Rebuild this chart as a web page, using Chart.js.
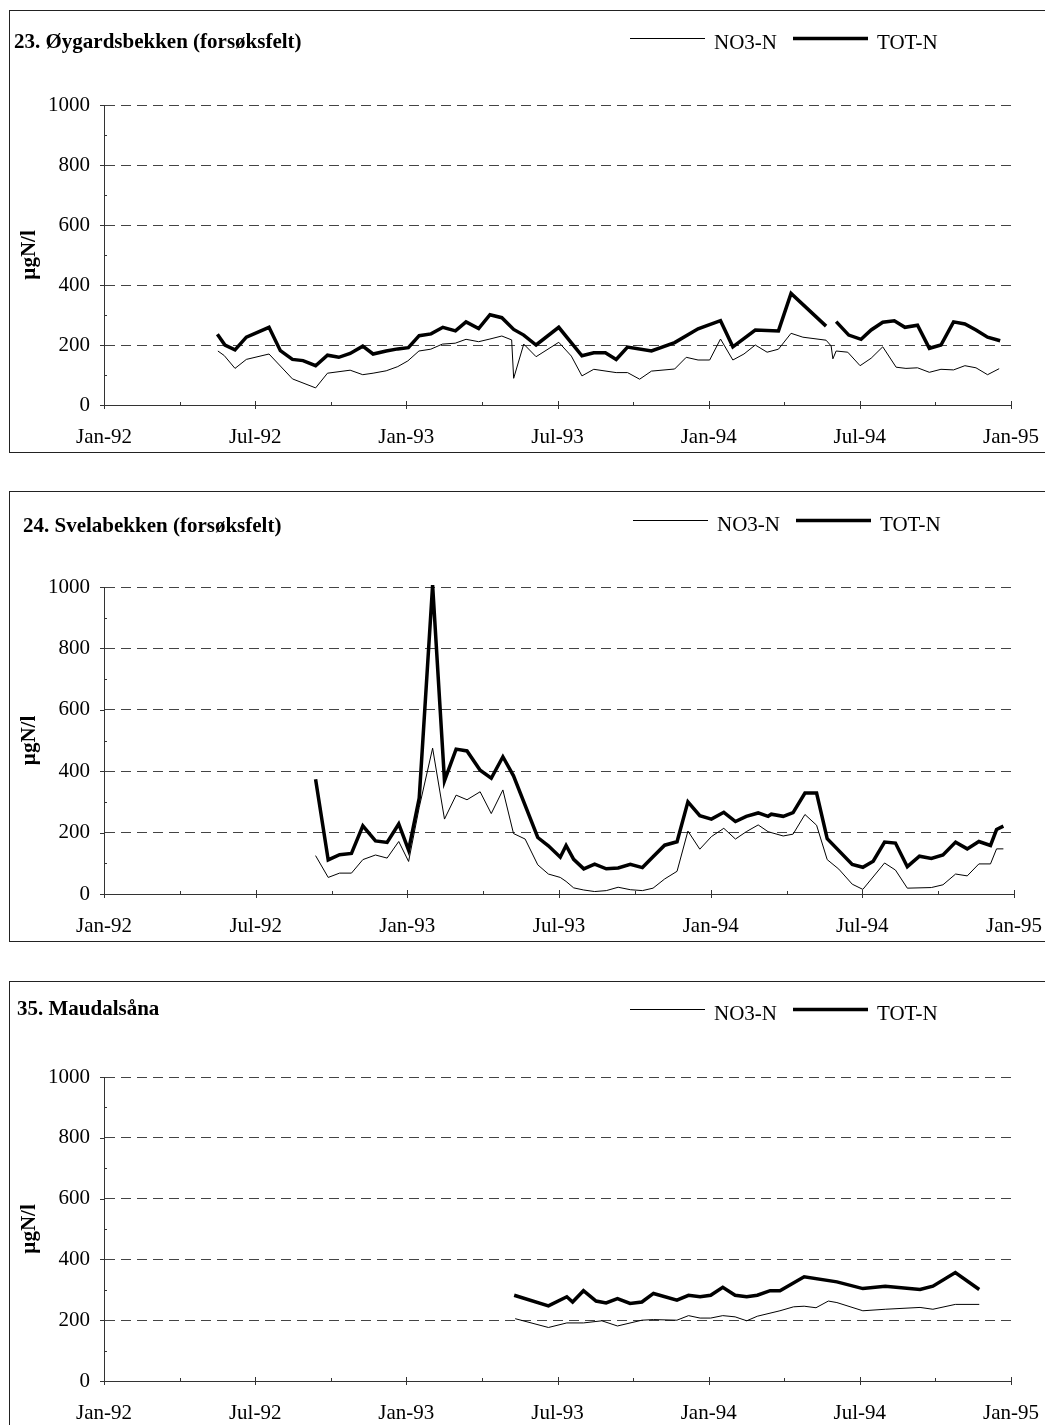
<!DOCTYPE html>
<html>
<head>
<meta charset="utf-8">
<script src="https://cdn.jsdelivr.net/npm/chart.js@4.4.0/dist/chart.umd.min.js"></script>
<style>
body { margin: 0; background: #fff; width: 1045px; height: 1425px; overflow: hidden; position: relative; }
.panel { position: absolute; left: 9px; width: 1040px; border: 1px solid #222; box-sizing: border-box; background: #fff; }
.panel canvas { position: absolute; left: 0; top: 0; }
</style>
</head>
<body>
<div class="panel" style="top:10px;height:443px"><canvas id="c1" width="1038" height="441"></canvas></div>
<div class="panel" style="top:491px;height:451px"><canvas id="c2" width="1038" height="449"></canvas></div>
<div class="panel" style="top:981px;height:450px"><canvas id="c3" width="1038" height="448"></canvas></div>
<script>
// x values are months counted from Jan-92
const xTickLabels = ['Jan-92', 'Jul-92', 'Jan-93', 'Jul-93', 'Jan-94', 'Jul-94', 'Jan-95'];
const seriesNames = ['NO3-N', 'TOT-N'];

// 23. Øygardsbekken
const p1No3Months = [4.52, 4.77, 5.2, 5.65, 6.55, 7.48, 8.4, 8.87, 9.77, 10.27, 10.68, 11.2, 11.66, 12.06, 12.5, 12.97, 13.43, 13.94, 14.37, 14.87, 15.32, 15.79, 16.18, 16.26, 16.66, 17.15, 18.05, 18.55, 18.97, 19.44, 20.33, 20.78, 21.26, 21.73, 22.65, 23.11, 23.58, 24.04, 24.47, 24.96, 25.4, 25.85, 26.32, 26.77, 27.27, 27.74, 28.66, 28.86, 28.93, 29.06, 29.52, 30.01, 30.45, 30.91, 31.44, 31.83, 32.29, 32.76, 33.22, 33.72, 34.17, 34.61, 35.07, 35.53];
const p1No3Values = [180, 165, 122, 152, 170, 87, 57, 106, 116, 101, 106, 114, 128, 147, 180, 186, 203, 206, 219, 211, 220, 230, 217, 89, 203, 161, 209, 163, 97, 119, 108, 108, 86, 113, 120, 159, 150, 150, 220, 150, 170, 200, 176, 186, 239, 226, 216, 197, 154, 180, 176, 131, 156, 194, 126, 122, 124, 109, 119, 117, 131, 124, 101, 121];
const p1TotMonths = [4.5, 4.8, 5.2, 5.65, 6.55, 7.0, 7.48, 7.9, 8.4, 8.87, 9.32, 9.77, 10.27, 10.68, 11.2, 11.66, 12.08, 12.51, 12.98, 13.45, 13.95, 14.37, 14.87, 15.32, 15.79, 16.26, 16.66, 17.15, 18.05, 18.97, 19.44, 19.9, 20.33, 20.78, 21.73, 22.65, 23.58, 24.47, 24.96, 25.85, 26.77, 27.27, 28.66, 28.86, 29.06, 29.56, 30.05, 30.45, 30.91, 31.37, 31.79, 32.29, 32.76, 33.22, 33.72, 34.17, 34.61, 35.07, 35.57];
const p1TotValues = [236, 200, 184, 226, 259, 181, 152, 148, 131, 166, 159, 172, 196, 170, 180, 187, 191, 231, 237, 259, 247, 277, 255, 301, 291, 252, 233, 200, 259, 164, 174, 174, 152, 193, 180, 208, 254, 281, 194, 250, 247, 372, 263, null, 278, 233, 219, 250, 276, 281, 259, 266, 189, 200, 277, 270, 250, 226, 214];

// 24. Svelabekken
const p2No3Months = [8.37, 8.87, 9.32, 9.79, 10.24, 10.74, 11.2, 11.66, 12.05, 12.47, 13.0, 13.47, 13.93, 14.36, 14.88, 15.32, 15.78, 16.2, 16.66, 17.16, 17.58, 18.05, 18.28, 18.58, 18.98, 19.41, 19.87, 20.34, 20.82, 21.3, 21.72, 22.18, 22.67, 23.1, 23.57, 24.03, 24.52, 24.98, 25.41, 25.88, 26.27, 26.87, 27.26, 27.73, 28.19, 28.61, 29.07, 29.6, 30.02, 30.88, 31.31, 31.78, 32.73, 33.19, 33.69, 34.15, 34.61, 35.07, 35.31, 35.58];
const p2No3Values = [125, 54, 68, 68, 112, 127, 117, 171, 106, 282, 475, 244, 322, 307, 333, 262, 339, 197, 179, 95, 65, 54, 41, 20, 13, 8, 11, 22, 14, 11, 19, 49, 74, 205, 146, 187, 214, 179, 203, 225, 203, 189, 195, 259, 224, 112, 81, 32, 15, 101, 78, 19, 21, 30, 65, 59, 98, 98, 147, 147];
const p2TotMonths = [8.37, 8.87, 9.32, 9.79, 10.24, 10.74, 11.2, 11.66, 12.05, 12.47, 13.0, 13.47, 13.93, 14.36, 14.88, 15.32, 15.78, 16.2, 17.16, 17.58, 18.05, 18.28, 18.58, 18.98, 19.41, 19.87, 20.34, 20.82, 21.3, 21.72, 22.18, 22.67, 23.1, 23.57, 24.03, 24.52, 24.98, 25.41, 25.88, 26.27, 26.4, 26.87, 27.26, 27.73, 28.19, 28.61, 29.6, 30.02, 30.43, 30.88, 31.31, 31.78, 32.26, 32.73, 33.19, 33.69, 34.15, 34.61, 35.07, 35.31, 35.58];
const p2TotValues = [374, 111, 128, 132, 222, 173, 168, 228, 143, 312, 1006, 369, 472, 466, 403, 377, 447, 385, 184, 157, 120, 158, 113, 82, 97, 82, 85, 97, 86, 121, 159, 170, 300, 255, 244, 266, 236, 253, 264, 253, 260, 253, 265, 329, 329, 180, 96, 87, 107, 169, 166, 89, 123, 116, 127, 169, 147, 171, 158, 210, 221];

// 35. Maudalsåna
const p3No3Months = [16.32, 17.64, 18.37, 19.03, 19.76, 20.38, 21.35, 21.81, 22.74, 23.2, 23.66, 24.08, 24.56, 25.05, 25.51, 25.93, 26.83, 27.37, 27.79, 28.26, 28.75, 29.09, 30.12, 31.01, 32.39, 32.9, 33.79, 34.74];
const p3No3Values = [205, 176, 191, 191, 198, 181, 200, 202, 200, 215, 207, 207, 215, 211, 198, 213, 231, 244, 246, 241, 263, 258, 231, 236, 242, 236, 252, 252];
const p3TotMonths = [16.28, 17.64, 18.37, 18.6, 19.03, 19.53, 19.93, 20.38, 20.88, 21.35, 21.81, 22.74, 23.2, 23.66, 24.08, 24.56, 25.05, 25.51, 25.93, 26.44, 26.83, 27.79, 29.09, 30.12, 31.01, 32.39, 32.9, 33.79, 34.74];
const p3TotValues = [282, 247, 277, 260, 297, 263, 257, 271, 255, 260, 288, 266, 282, 277, 282, 308, 282, 277, 282, 297, 297, 343, 326, 304, 312, 301, 312, 357, 301];

const FONT = "'Liberation Serif', 'Times New Roman', serif";
Chart.defaults.font.family = FONT;
Chart.defaults.color = '#000';

// title, legend and the small tick marks
const panelDecor = {
  id: 'panelDecor',
  afterDraw(chart, args, opts) {
    const ctx = chart.ctx;
    const xs = chart.scales.x, ys = chart.scales.y;
    ctx.save();
    ctx.strokeStyle = '#333';
    ctx.lineWidth = 1;
    ctx.beginPath();
    xs.ticks.forEach(t => {
      const px = Math.round(xs.getPixelForValue(t.value)) + 0.5;
      if (t.value % 6 === 0) { ctx.moveTo(px, xs.top - 4); ctx.lineTo(px, xs.top + 4); }
      else { ctx.moveTo(px, xs.top - 3); ctx.lineTo(px, xs.top); }
    });
    ys.ticks.forEach(t => {
      const py = Math.round(ys.getPixelForValue(t.value)) + 0.5;
      if (t.value % 200 === 0) { ctx.moveTo(ys.right - 4, py); ctx.lineTo(ys.right, py); }
      else { ctx.moveTo(ys.right, py); ctx.lineTo(ys.right + 3, py); }
    });
    ctx.stroke();

    ctx.fillStyle = '#000';
    ctx.textBaseline = 'alphabetic';
    ctx.font = 'bold 21px ' + FONT;
    ctx.fillText(opts.title, opts.titleX, opts.titleY);

    ctx.font = '21px ' + FONT;
    chart.data.datasets.forEach((ds, i) => {
      const lx = opts.legendX + i * 163;
      ctx.strokeStyle = '#000';
      ctx.lineWidth = ds.borderWidth;
      ctx.beginPath();
      ctx.moveTo(lx, opts.legendY);
      ctx.lineTo(lx + 75, opts.legendY);
      ctx.stroke();
      ctx.fillText(ds.label, lx + 84, opts.legendY + 10);
    });
    ctx.restore();
  }
};

function toPoints(months, values) {
  return months.map((m, i) => ({ x: m, y: values[i] }));
}

// keep the plot box fixed: no extra room for overhanging labels
function noOverhang(s) {
  s.paddingLeft = 0; s.paddingRight = 0; s.paddingTop = 0; s.paddingBottom = 0;
}

function makePanel(id, no3Months, no3Values, totMonths, totValues, box) {
  const canvas = document.getElementById(id);
  return new Chart(canvas, {
    type: 'line',
    data: {
      datasets: [
        { label: seriesNames[0], data: toPoints(no3Months, no3Values), borderColor: '#000', borderWidth: 1, pointRadius: 0, tension: 0, clip: false },
        { label: seriesNames[1], data: toPoints(totMonths, totValues), borderColor: '#000', borderWidth: 3.5, pointRadius: 0, tension: 0, clip: false }
      ]
    },
    plugins: [panelDecor],
    options: {
      responsive: false,
      animation: false,
      layout: {
        autoPadding: false,
        padding: { left: 0, top: box.top, right: canvas.width - box.right, bottom: 0 }
      },
      scales: {
        x: {
          type: 'linear', min: 0, max: 36,
          afterFit: s => { s.height = canvas.height - box.bottom; noOverhang(s); },
          grid: { display: false },
          border: { display: true, color: '#333', width: 1 },
          ticks: {
            stepSize: 3, autoSkip: false, maxRotation: 0, padding: 12,
            font: { size: 21 }, color: '#000',
            callback: v => (v % 6 === 0 ? xTickLabels[v / 6] : '')
          }
        },
        y: {
          min: 0, max: 1000,
          afterFit: s => { s.width = 94; noOverhang(s); },
          grid: {
            drawTicks: false,
            color: c => (c.tick && c.tick.value > 0 && c.tick.value % 200 === 0 ? '#444' : 'rgba(0,0,0,0)')
          },
          border: { display: true, color: '#333', width: 1, dash: [10, 6] },
          ticks: {
            stepSize: 100, padding: 14, font: { size: 21 }, color: '#000',
            callback: v => (v % 200 === 0 ? String(v) : '')
          },
          title: { display: true, text: 'µgN/l', font: { size: 21, weight: 'bold' }, color: '#000', padding: { top: 7, bottom: 0 } }
        }
      },
      plugins: {
        legend: { display: false },
        tooltip: { enabled: false },
        panelDecor: box
      }
    }
  });
}

makePanel('c1', p1No3Months, p1No3Values, p1TotMonths, p1TotValues,
  { top: 94, right: 1001, bottom: 394, title: '23. Øygardsbekken (forsøksfelt)', titleX: 4, titleY: 37, legendX: 620, legendY: 27.5 });
makePanel('c2', p2No3Months, p2No3Values, p2TotMonths, p2TotValues,
  { top: 95, right: 1004, bottom: 402, title: '24. Svelabekken (forsøksfelt)', titleX: 13, titleY: 39.5, legendX: 623, legendY: 28.5 });
makePanel('c3', p3No3Months, p3No3Values, p3TotMonths, p3TotValues,
  { top: 95, right: 1001, bottom: 399, title: '35. Maudalsåna', titleX: 7, titleY: 33, legendX: 620, legendY: 27.5 });
</script>
</body>
</html>
